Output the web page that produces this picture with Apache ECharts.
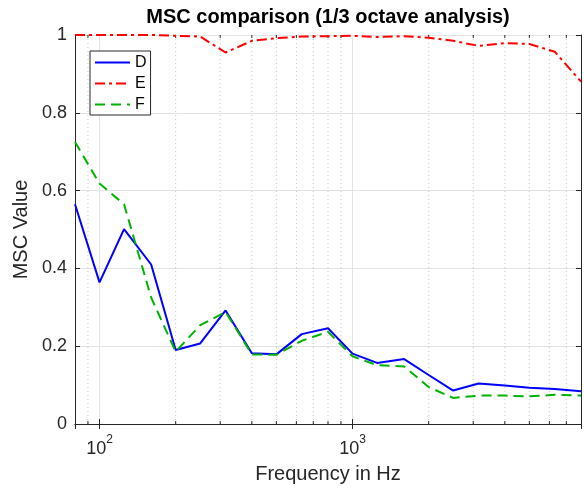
<!DOCTYPE html>
<html>
<head>
<meta charset="utf-8">
<script src="https://cdn.jsdelivr.net/npm/echarts@6/dist/echarts.min.js"></script>
<style>html,body{margin:0;padding:0;background:#fff;}#c{width:584px;height:489px;}</style>
</head>
<body>
<div id="c"></div>
<script>
const freqs = [80,100,125,160,200,250,315,400,500,630,800,1000,1250,1600,2000,2500,3150,4000,5000,6300,8000];
const seriesD = [0.565,0.364,0.501,0.410,0.190,0.207,0.292,0.182,0.179,0.231,0.246,0.181,0.157,0.167,0.126,0.086,0.104,0.099,0.093,0.090,0.084];
const seriesE = [1.0,1.0,1.0,1.0,0.998,0.996,0.955,0.985,0.992,0.996,0.997,0.998,0.995,0.997,0.993,0.985,0.972,0.979,0.977,0.957,0.880];
const seriesF = [0.725,0.618,0.565,0.325,0.186,0.254,0.288,0.179,0.178,0.214,0.237,0.174,0.151,0.148,0.095,0.067,0.073,0.073,0.071,0.075,0.073];
const minorFreqs = [90,200,300,400,500,600,700,800,900,2000,3000,4000,5000,6000,7000];
const yTicks = [0,0.2,0.4,0.6,0.8,1];

const FONT = '"Liberation Sans", Arial, Helvetica, sans-serif';
const TXT = '#262626';
const chart = echarts.init(document.getElementById('c'), null, {renderer: 'canvas'});

function pairs(vals) { return freqs.map((f, i) => [f, vals[i]]); }

function isPow10(v) {
  const l = Math.log10(v);
  return Math.abs(l - Math.round(l)) < 1e-6;
}

const option = {
  animation: false,
  backgroundColor: '#fff',
  textStyle: {fontFamily: FONT},
  title: {
    text: 'MSC comparison (1/3 octave analysis)',
    left: 328, top: 7, textAlign: 'center', padding: 0,
    textStyle: {fontFamily: FONT, fontSize: 20, fontWeight: 'bold', color: '#000'}
  },
  grid: {left: 75, right: 3, top: 35, bottom: 61, containLabel: false},
  legend: {
    orient: 'vertical', left: 90, top: 51,
    data: ['D', 'E', 'F'],
    itemWidth: 35, itemHeight: 14, itemGap: 4,
    padding: [3, 4, 2, 4],
    itemStyle: {opacity: 0},
    borderColor: '#262626', borderWidth: 1, backgroundColor: '#fff',
    textStyle: {fontFamily: FONT, fontSize: 16, color: '#000', lineHeight: 17}
  },
  xAxis: [{
    type: 'log', logBase: 10, min: 80, max: 8000,
    name: 'Frequency in Hz', nameLocation: 'middle', nameGap: 40,
    nameTextStyle: {fontFamily: FONT, fontSize: 20, color: TXT},
    axisLine: {show: true, lineStyle: {color: TXT, width: 1}},
    axisTick: {show: true, inside: true, length: 5, lineStyle: {color: TXT}},
    axisLabel: {
      show: true, margin: 10, showMinLabel: false, showMaxLabel: false,
      formatter: function (v) {
        if (!isPow10(v)) return '';
        return '{b|10}{s|' + Math.round(Math.log10(v)) + '}';
      },
      rich: {
        b: {fontFamily: FONT, fontSize: 18, color: TXT, lineHeight: 24, verticalAlign: 'bottom'},
        s: {fontFamily: FONT, fontSize: 12, color: TXT, lineHeight: 24, verticalAlign: 'top'}
      }
    },
    splitLine: {show: true, lineStyle: {color: '#e3e3e3', width: 1}}
  }, {
    type: 'log', logBase: 10, min: 80, max: 8000, position: 'top',
    axisLine: {show: true, lineStyle: {color: TXT, width: 1}},
    axisTick: {show: true, inside: true, length: 5, lineStyle: {color: TXT}},
    axisLabel: {show: false}, splitLine: {show: false}
  }],
  yAxis: [{
    type: 'value', min: 0, max: 1, interval: 0.2,
    name: 'MSC Value', nameLocation: 'middle', nameGap: 37,
    nameTextStyle: {fontFamily: FONT, fontSize: 20, color: TXT},
    axisLine: {show: true, lineStyle: {color: TXT, width: 1}},
    axisTick: {show: true, inside: true, length: 5, lineStyle: {color: TXT}},
    axisLabel: {fontFamily: FONT, fontSize: 18, color: TXT, margin: 8,
      formatter: v => yTicks.indexOf(+v.toFixed(1)) >= 0 ? String(+v.toFixed(1)) : ''},
    splitLine: {show: true, lineStyle: {color: '#e3e3e3', width: 1}}
  }, {
    type: 'value', min: 0, max: 1, interval: 0.2, position: 'right',
    axisLine: {show: true, lineStyle: {color: TXT, width: 1}},
    axisTick: {show: true, inside: true, length: 5, lineStyle: {color: TXT}},
    axisLabel: {show: false}, splitLine: {show: false}
  }],
  series: [
    {
      name: 'minorGrid', type: 'custom', silent: true, z: 1,
      data: minorFreqs.map(f => [f, 0]),
      renderItem: function (params, api) {
        const f = api.value(0);
        const b = api.coord([f, 0]);
        const t = api.coord([f, 1]);
        return {
          type: 'group',
          children: [
            {type: 'line', shape: {x1: b[0], y1: b[1], x2: t[0], y2: t[1]},
             style: {stroke: '#c8c8c8', lineWidth: 1, lineDash: [1, 3]}},
            {type: 'line', shape: {x1: b[0], y1: b[1], x2: b[0], y2: b[1] - 3},
             style: {stroke: TXT, lineWidth: 1}},
            {type: 'line', shape: {x1: t[0], y1: t[1], x2: t[0], y2: t[1] + 3},
             style: {stroke: TXT, lineWidth: 1}}
          ]
        };
      }
    },
    {
      name: 'D', type: 'line', data: pairs(seriesD), showSymbol: false, symbol: 'none', z: 3,
      lineStyle: {color: '#0000ff', width: 2, type: 'solid'}, itemStyle: {color: '#0000ff'}
    },
    {
      name: 'E', type: 'line', data: pairs(seriesE), showSymbol: false, symbol: 'none', z: 3,
      lineStyle: {color: '#ff0000', width: 2, type: [10, 4, 3, 4]}, itemStyle: {color: '#ff0000'}
    },
    {
      name: 'F', type: 'line', data: pairs(seriesF), showSymbol: false, symbol: 'none', z: 3,
      lineStyle: {color: '#00b300', width: 2, type: [10, 6]}, itemStyle: {color: '#00b300'}
    }
  ]
};
chart.setOption(option);
</script>
</body>
</html>
